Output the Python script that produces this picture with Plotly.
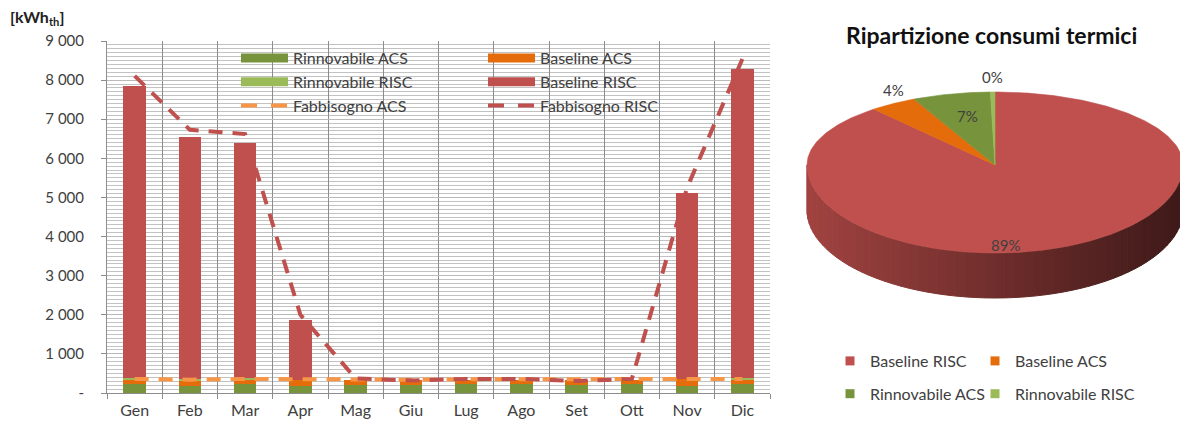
import numpy as np
import plotly.graph_objects as go

# ---------------- data ----------------
months = ["Gen", "Feb", "Mar", "Apr", "Mag", "Giu", "Lug", "Ago", "Set", "Ott", "Nov", "Dic"]

rinnovabile_acs = [230, 190, 230, 190, 210, 210, 220, 220, 210, 220, 190, 230]
baseline_acs = [120, 140, 120, 150, 130, 120, 120, 120, 120, 120, 160, 120]
rinnovabile_risc = [40, 35, 35, 0, 0, 0, 0, 0, 0, 0, 0, 40]
baseline_risc = [7470, 6190, 6015, 1525, 0, 0, 0, 0, 0, 0, 4755, 7890]
fabbisogno_acs = [360, 340, 360, 350, 350, 340, 350, 350, 340, 350, 350, 360]
fabbisogno_risc = [8110, 6730, 6620, 2000, 370, 320, 360, 360, 310, 360, 5250, 8540]

y_tick_vals = [0, 1000, 2000, 3000, 4000, 5000, 6000, 7000, 8000, 9000]
y_tick_text = ["-", "1 000", "2 000", "3 000", "4 000", "5 000", "6 000", "7 000", "8 000", "9 000"]

pie_labels = ["Baseline RISC", "Baseline ACS", "Rinnovabile ACS", "Rinnovabile RISC"]
pie_values = [sum(baseline_risc), sum(baseline_acs), sum(rinnovabile_acs), sum(rinnovabile_risc)]

# ---------------- style ----------------
C_RACS = "#77933C"
C_BACS = "#E46C0A"
C_RRISC = "#9BBB59"
C_BRISC = "#C0504D"
C_FACS = "#F79646"
FONT = "Lato"
TXT = "#404040"
CHART_DASH = "14px,10px"
LEGEND_DASH = "16px,14px"

W, H = 1180, 422
ML, MR, MT, MB = 107, 0, 41, 29
PW = W - ML - MR
PH = H - MT - MB


def px_x(p):
    return (p - ML) / PW


def px_y(p):
    return (H - MB - p) / PH


fig = go.Figure()

# ---------------- stacked monthly bars ----------------
bar_series = [
    ("Rinnovabile ACS", rinnovabile_acs, C_RACS),
    ("Baseline ACS", baseline_acs, C_BACS),
    ("Rinnovabile RISC", rinnovabile_risc, C_RRISC),
    ("Baseline RISC", baseline_risc, C_BRISC),
]
for name, vals, col in bar_series:
    fig.add_trace(go.Bar(x=months, y=vals, name=name, marker=dict(color=col, line=dict(width=0)),
                         showlegend=False, xaxis="x", yaxis="y"))

fig.add_trace(go.Scatter(x=months, y=fabbisogno_acs, mode="lines", name="Fabbisogno ACS",
                         line=dict(color=C_FACS, width=4, dash=CHART_DASH),
                         showlegend=False, xaxis="x", yaxis="y"))
fig.add_trace(go.Scatter(x=months, y=fabbisogno_risc, mode="lines", name="Fabbisogno RISC",
                         line=dict(color=C_BRISC, width=4, dash=CHART_DASH),
                         showlegend=False, xaxis="x", yaxis="y"))

# legend entries of the bar chart (two columns)
legend_cols = {
    "legend": [("Rinnovabile ACS", C_RACS, "solid", 9), ("Rinnovabile RISC", C_RRISC, "solid", 9),
               ("Fabbisogno ACS", C_FACS, LEGEND_DASH, 4)],
    "legend2": [("Baseline ACS", C_BACS, "solid", 9), ("Baseline RISC", C_BRISC, "solid", 9),
                ("Fabbisogno RISC", C_BRISC, LEGEND_DASH, 4)],
}
for lg, items in legend_cols.items():
    for name, col, dash, lw in items:
        fig.add_trace(go.Scatter(x=[None], y=[None], mode="lines", name=name, legend=lg,
                                 line=dict(color=col, width=lw, dash=dash),
                                 xaxis="x", yaxis="y", hoverinfo="skip"))

# ---------------- 3D-looking pie ----------------
total = float(sum(pie_values))
fracs = [v / total for v in pie_values]
pie_colors = [C_BRISC, C_BACS, C_RACS, C_RRISC]
A, B_BACK, B_FRONT, DEPTH = 188.0, 73.0, 88.0, 45.0


def rim(theta):
    th = np.asarray(theta)
    c = np.cos(th)
    return A * np.sin(th), np.where(c >= 0, B_BACK * c, B_FRONT * c)


bounds = np.concatenate([[0.0], np.cumsum(fracs)]) * 2 * np.pi


def color_at(theta):
    for i in range(len(fracs)):
        if bounds[i] <= theta <= bounds[i + 1]:
            return pie_colors[i]
    return pie_colors[0]


def shade(hexcol, f):
    h = hexcol.lstrip("#")
    r, g, b = (int(h[k:k + 2], 16) for k in (0, 2, 4))
    return "rgb(%d,%d,%d)" % (r * f, g * f, b * f)


# side wall (front half), drawn as narrow strips with a left-to-right darkening
n_strips = 60
wall_t = np.linspace(np.pi / 2, 3 * np.pi / 2, n_strips + 1)
for i in range(n_strips):
    t0, t1 = wall_t[i], wall_t[i + 1]
    ts = np.linspace(t0, t1, 4)
    xs, ys = rim(ts)
    px = np.concatenate([xs, xs[::-1], xs[:1]])
    py = np.concatenate([ys, ys[::-1] - DEPTH, ys[:1]])
    xm = float(rim([(t0 + t1) / 2])[0][0])
    f = 0.32 + 0.52 * (A - xm) / (2 * A)
    col = shade(color_at((t0 + t1) / 2), f)
    fig.add_trace(go.Scatter(x=px, y=py, mode="lines", fill="toself", fillcolor=col,
                             line=dict(color=col, width=1), showlegend=False,
                             hoverinfo="skip", xaxis="x2", yaxis="y2"))

# top face slices
for i in range(len(fracs)):
    ts = np.linspace(bounds[i], bounds[i + 1], max(3, int(400 * fracs[i])))
    xs, ys = rim(ts)
    px = np.concatenate([[0.0], xs, [0.0]])
    py = np.concatenate([[0.0], ys, [0.0]])
    fig.add_trace(go.Scatter(x=px, y=py, mode="lines", fill="toself", fillcolor=pie_colors[i],
                             line=dict(color=pie_colors[i], width=0.6), showlegend=False,
                             hoverinfo="skip", xaxis="x2", yaxis="y2"))

# percentage labels (radial factors per slice)
label_r = [(0.17, 0.97), (1.0, 1.22), (0.62, 0.69), (1.0, 1.2)]
for i in range(len(fracs)):
    mid = (bounds[i] + bounds[i + 1]) / 2
    bx = B_BACK if np.cos(mid) >= 0 else B_FRONT
    fig.add_annotation(x=A * np.sin(mid) * label_r[i][0], y=bx * np.cos(mid) * label_r[i][1],
                       xref="x2", yref="y2", text="%d%%" % round(100 * fracs[i]),
                       showarrow=False, font=dict(family=FONT, size=15, color=TXT))

# pie legend entries (two columns)
pie_legend = {"legend3": [0, 2], "legend4": [1, 3]}
for lg, idxs in pie_legend.items():
    for i in idxs:
        fig.add_trace(go.Scatter(x=[None], y=[None], mode="markers", name=pie_labels[i], legend=lg,
                                 legendgroup=pie_labels[i],
                                 marker=dict(symbol="square", size=9, color=pie_colors[i]),
                                 xaxis="x2", yaxis="y2", hoverinfo="skip"))

# ---------------- layout ----------------
fig.update_layout(
    width=W, height=H,
    margin=dict(l=ML, r=MR, t=MT, b=MB, pad=0),
    paper_bgcolor="white", plot_bgcolor="white",
    barmode="stack", bargap=0.59,
    font=dict(family=FONT, size=15, color=TXT),
    xaxis=dict(domain=[0, px_x(770)], type="category", range=[-0.5, 11.5],
               tickson="boundaries", ticks="outside", ticklen=5, tickcolor="#8c8c8c",
               showgrid=True, gridcolor="#8c8c8c", gridwidth=1,
               showline=True, linecolor="#8c8c8c", linewidth=1, mirror=False,
               ticklabelstandoff=3, tickfont=dict(size=16, color=TXT), fixedrange=True),
    yaxis=dict(range=[0, 9000], tickvals=y_tick_vals, ticktext=y_tick_text,
               ticks="outside", ticklen=5, tickcolor="#8c8c8c",
               showline=True, linecolor="#8c8c8c", linewidth=1,
               showgrid=True, gridcolor="#bababa", gridwidth=1, zeroline=False,
               minor=dict(dtick=100, showgrid=True, gridcolor="#c2c2c2", gridwidth=1, ticks=""),
               ticklabelstandoff=14, tickfont=dict(size=15, color=TXT), fixedrange=True),
    xaxis2=dict(domain=[px_x(790), 1], range=[-205, 185], visible=False, anchor="y2", fixedrange=True),
    yaxis2=dict(domain=[0, 1], range=[-228, 124], visible=False, anchor="x2", fixedrange=True),
    legend=dict(x=px_x(236), y=px_y(41), xanchor="left", yanchor="top", bgcolor="rgba(0,0,0,0)",
                itemwidth=47, traceorder="normal", font=dict(size=16, color=TXT)),
    legend2=dict(x=px_x(483), y=px_y(41), xanchor="left", yanchor="top", bgcolor="rgba(0,0,0,0)",
                 itemwidth=47, traceorder="normal", font=dict(size=16, color=TXT)),
    legend3=dict(x=px_x(830), y=px_y(344), xanchor="left", yanchor="top", bgcolor="rgba(0,0,0,0)",
                 itemwidth=30, tracegroupgap=9, traceorder="grouped", font=dict(size=16, color=TXT)),
    legend4=dict(x=px_x(975), y=px_y(344), xanchor="left", yanchor="top", bgcolor="rgba(0,0,0,0)",
                 itemwidth=30, tracegroupgap=9, traceorder="grouped", font=dict(size=16, color=TXT)),
    showlegend=True,
)

# white box behind the bar legend
fig.add_shape(type="rect", xref="paper", yref="paper", x0=px_x(205), x1=px_x(681),
              y0=px_y(116), y1=px_y(43), fillcolor="white", line=dict(width=0), layer="below")

# unit label and pie title
fig.add_annotation(x=px_x(8), y=px_y(18), xref="paper", yref="paper", xanchor="left", yanchor="middle",
                   text="<b>[kWh<sub>th</sub>]</b>", showarrow=False, font=dict(family=FONT, size=16, color="#222"))
fig.add_annotation(x=px_x(991), y=px_y(35), xref="paper", yref="paper", xanchor="center", yanchor="middle",
                   text="<b>Ripartizione consumi termici</b>", showarrow=False,
                   font=dict(family=FONT, size=23, color="#111"))

fig.write_html("out.html")
